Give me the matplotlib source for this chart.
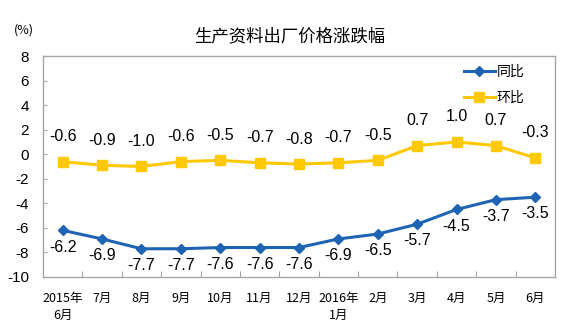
import matplotlib
matplotlib.use('Agg')
import matplotlib.pyplot as plt

plt.rcParams['font.family'] = ['Liberation Sans', 'Noto Sans CJK SC']

# --- dados ---
categorias = ["2015年\n6月", "7月", "8月", "9月", "10月", "11月", "12月",
              "2016年\n1月", "2月", "3月", "4月", "5月", "6月"]
tongbi = [-6.2, -6.9, -7.7, -7.7, -7.6, -7.6, -7.6, -6.9, -6.5, -5.7, -4.5, -3.7, -3.5]
huanbi = [-0.6, -0.9, -1.0, -0.6, -0.5, -0.7, -0.8, -0.7, -0.5, 0.7, 1.0, 0.7, -0.3]
yticks = list(range(-10, 9, 2))

azul = '#1F64B4'
amarelo = '#FFC800'
cinza = '#A6A6A6'

fig = plt.figure(figsize=(5.8, 3.28), dpi=100)
ax = fig.add_axes([43 / 580, 1 - 277 / 328, 512 / 580, 221 / 328])

x = list(range(len(categorias)))
ax.plot(x, tongbi, color=azul, lw=2.2, marker='D', ms=5, label='同比')
ax.plot(x, huanbi, color=amarelo, lw=2.2, marker='s', ms=7, label='环比')

for i, v in enumerate(tongbi):
    ax.annotate(f"{v:.1f}", (i, v), xytext=(0, -12), textcoords='offset points',
                ha='center', va='center', fontsize=11.5)
for i, v in enumerate(huanbi):
    ax.annotate(f"{v:.1f}", (i, v), xytext=(0, 18), textcoords='offset points',
                ha='center', va='center', fontsize=11.5)

ax.set_xlim(-0.5, len(categorias) - 0.5)
ax.set_ylim(-10, 8)
ax.set_yticks(yticks)
ax.set_yticklabels([str(t) for t in yticks], fontsize=11)
ax.tick_params(axis='y', direction='in', length=3, color=cinza, pad=10)

# marcas do eixo x nas fronteiras das categorias
ax.set_xticks([i + 0.5 for i in x[:-1]])
ax.set_xticklabels([])
ax.set_xticks(x, minor=True)
ax.set_xticklabels(categorias, minor=True, fontsize=9, linespacing=1.4,
                   family=['SimSun', 'Noto Sans CJK SC'])
ax.tick_params(axis='x', which='major', direction='in', length=4, color=cinza)
ax.tick_params(axis='x', which='minor', length=0, pad=11)
for lbl in ax.get_xticklabels(minor=True):
    lbl.set_verticalalignment('top')

for s in ax.spines.values():
    s.set_color(cinza)
    s.set_linewidth(1)

ax.legend(loc='upper left', bbox_to_anchor=(408 / 512, 1 + 4 / 221), frameon=False,
          handlelength=2.3, handletextpad=0.1, labelspacing=0.9,
          prop={'family': ['Noto Sans CJK SC'], 'size': 10})

fig.text(290 / 580, 1 - 36 / 328, '生产资料出厂价格涨跌幅', ha='center', va='center',
         fontsize=12.5, family=['Noto Sans CJK SC'])
fig.text(14 / 580, 1 - 30 / 328, '(%)', ha='left', va='center', fontsize=9,
         family=['Noto Sans CJK SC'])

fig.savefig('out.png', dpi=100)
